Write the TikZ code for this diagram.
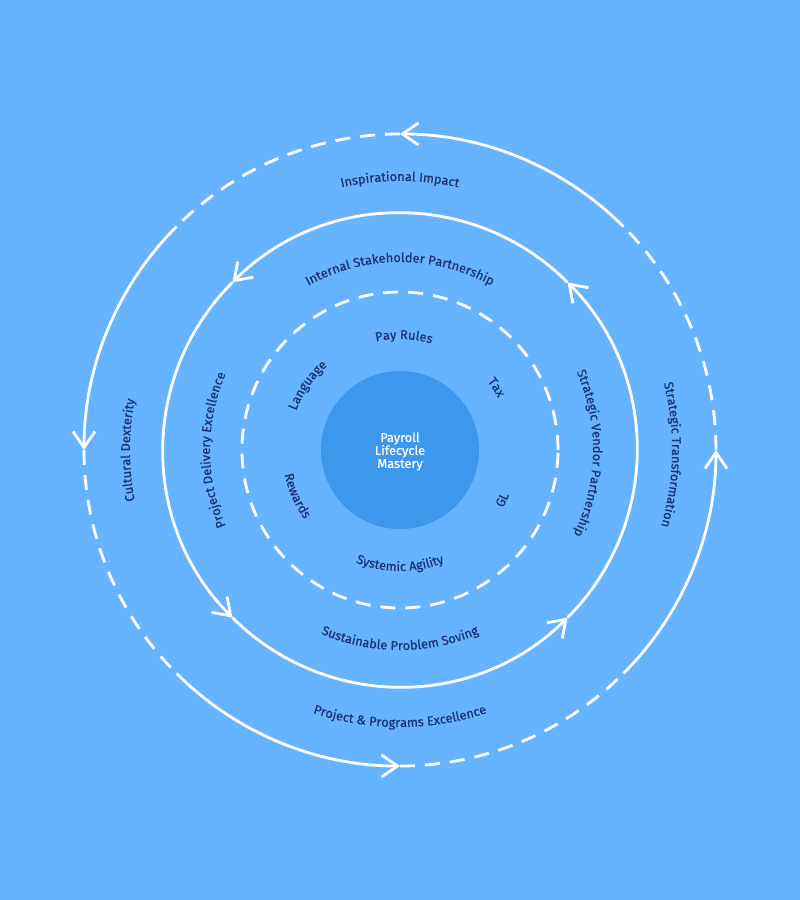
\documentclass[tikz,border=0pt]{standalone}
\usepackage{fontspec}
\setmainfont{Fira Sans}
\newfontfamily\lblfam{Fira Sans}[FakeBold=0.35]
\usetikzlibrary{decorations.text,arrows.meta}
\definecolor{bgblue}{HTML}{66B3FF}
\definecolor{coreblue}{HTML}{3D97EC}
\definecolor{navy}{HTML}{18336E}
\newcommand\lblfont{\lblfam\fontsize{12.8}{14}\selectfont}
% clockwise label (upper half / sides): angle, radius, text
\newcommand\arclabelcw[3]{%
  \path[decorate,decoration={text along path,text align=center,text color=navy,
    text={|\lblfont|#3}}]
    ({#1+80}:#2) arc[start angle={#1+80},end angle={#1-80},radius=#2];}
% counter-clockwise label (lower half): angle, radius, text
\newcommand\arclabelccw[3]{%
  \path[decorate,decoration={text along path,text align=center,text color=navy,
    text={|\lblfont|#3}}]
    ({#1-80}:#2) arc[start angle={#1-80},end angle={#1+80},radius=#2];}
\tikzset{
  ring/.style={draw=white,line width=2.8pt},
  dashring/.style={ring,dash pattern=on 15pt off 10pt},
  flow/.style={ring,-{Straight Barb[length=16pt,width=22pt]}},
}
\begin{document}
\begin{tikzpicture}[x=1pt,y=1pt]
\fill[bgblue] (-400,-450) rectangle (400,450);
\useasboundingbox (-400,-450) rectangle (400,450);

% core
\node[circle,fill=coreblue,minimum size=158pt,inner sep=0pt] (core) at (0,0) {};
\node[text=white,align=center,font=\lblfam\fontsize{12.8}{13}\selectfont,yshift=-1.5pt]
  (coretext) at (core.center) {Payroll\\Lifecycle\\Mastery};

% inner dashed ring
\coordinate (i0) at (0:158);
\draw[dashring] (i0) arc[start angle=0,end angle=360,radius=158];

% middle ring with four arrows (counter-clockwise)
\coordinate (m1) at (-45:237);
\coordinate (m2) at (45:237);
\coordinate (m3) at (135:237);
\coordinate (m4) at (225:237);
\draw[flow] (m1) arc[start angle=-45,end angle=45,radius=237];
\draw[flow] (m2) arc[start angle=45,end angle=135,radius=237];
\draw[flow] (m3) arc[start angle=135,end angle=225,radius=237];
\draw[flow] (m4) arc[start angle=225,end angle=315,radius=237];

% outer ring: alternating solid (with arrow) and dashed
\coordinate (o0) at (0:316);
\coordinate (o45) at (45:316);
\coordinate (o90) at (90:316);
\coordinate (o135) at (135:316);
\coordinate (o180) at (180:316);
\coordinate (o225) at (225:316);
\coordinate (o270) at (270:316);
\coordinate (o315) at (315:316);
\draw[flow] (o45) arc[start angle=45,end angle=90,radius=316];
\draw[dashring] (o90) arc[start angle=90,end angle=135,radius=316];
\draw[flow] (o135) arc[start angle=135,end angle=180,radius=316];
\draw[dashring] (o180) arc[start angle=180,end angle=225,radius=316];
\draw[flow] (o225) arc[start angle=225,end angle=270,radius=316];
\draw[dashring] (o270) arc[start angle=270,end angle=315,radius=316];
\draw[flow] (o315) arc[start angle=315,end angle=360,radius=316];
\draw[dashring] (o0) arc[start angle=0,end angle=45,radius=316];

% outer labels
\arclabelcw{90}{269}{Inspirational Impact}
\arclabelcw{180}{270}{Cultural Dexterity}
\arclabelcw{-1}{272}{Strategic Transformation}
\arclabelccw{270}{277}{Project {\&} Programs Excellence}

% middle labels
\arclabelcw{90}{188}{Internal Stakeholder Partnership}
\arclabelcw{180}{190}{Project Delivery Excellence}
\arclabelcw{-1}{193}{Strategic Vendor Partnership}
\arclabelccw{270}{200}{Sustainable Problem Soving}

% inner labels
\arclabelcw{88}{111}{Pay Rules}
\arclabelcw{145}{111}{Language}
\arclabelcw{33}{111}{Tax}
\arclabelccw{-26}{118}{GL}
\arclabelccw{204}{118}{Rewards}
\arclabelccw{270}{121}{Systemic Agility}
\end{tikzpicture}
\end{document}
